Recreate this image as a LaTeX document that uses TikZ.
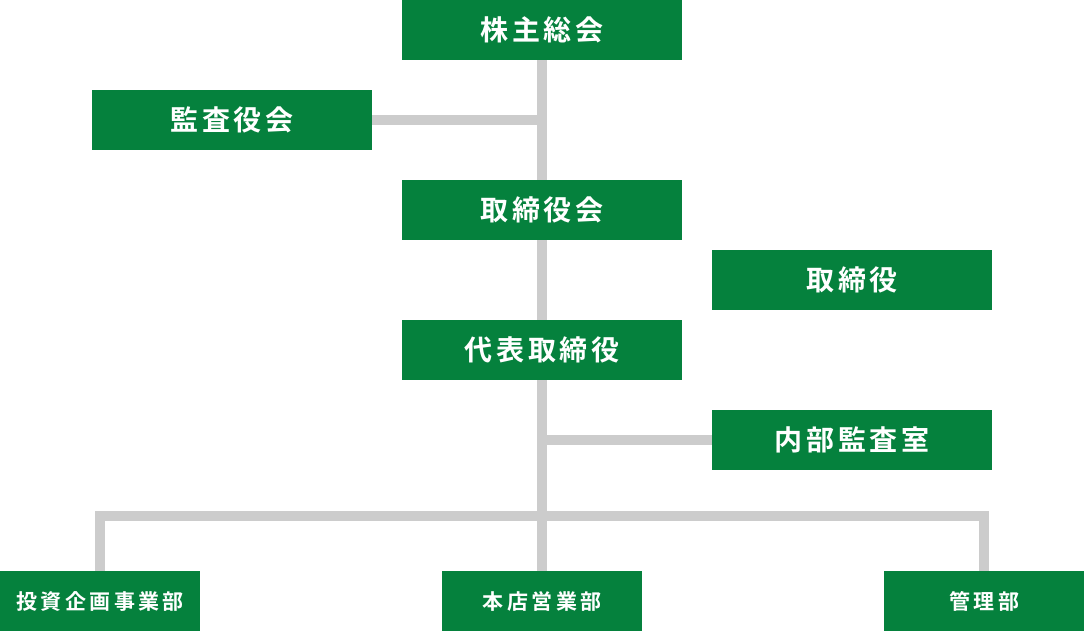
\documentclass[tikz,border=0pt]{standalone}
\usepackage{fontspec}
\usetikzlibrary{backgrounds}
\newfontfamily\jpbig{Noto Sans CJK JP}[UprightFont=* Bold, LetterSpace=13]
\newfontfamily\jpsmall{Noto Sans CJK JP}[UprightFont=* Bold, LetterSpace=16]
\definecolor{boxgreen}{HTML}{05813D}
\definecolor{linegray}{HTML}{CCCCCC}
\tikzset{
  bigbox/.style={rectangle, fill=boxgreen, text=white, inner sep=0pt, anchor=north west,
    minimum width=280pt, minimum height=60pt, font=\jpbig\fontsize{28}{28}\selectfont},
  smallbox/.style={rectangle, fill=boxgreen, text=white, inner sep=0pt, anchor=north west,
    minimum width=200pt, minimum height=60pt, font=\jpsmall\fontsize{21}{21}\selectfont},
  conn/.style={draw=linegray, line width=10pt, line join=miter}
}
\begin{document}
\begin{tikzpicture}[x=1pt,y=-1pt]
\useasboundingbox (0,0) rectangle (1084,631);
\node[bigbox] (soukai) at (402,0) {株主総会};
\node[bigbox] (kansa) at (92,90) {監査役会};
\node[bigbox] (torikai) at (402,180) {取締役会};
\node[bigbox] (torishimari) at (712,250) {取締役};
\node[bigbox] (daihyo) at (402,320) {代表取締役};
\node[bigbox] (naibu) at (712,410) {内部監査室};
\node[smallbox] (toushi) at (0,571) {投資企画事業部};
\node[smallbox] (honten) at (442,571) {本店営業部};
\node[smallbox] (kanri) at (884,571) {管理部};
\coordinate (bus) at (542,516);
\begin{scope}[on background layer]
\draw[conn] (soukai.south) -- (torikai.north);
\draw[conn] (torikai.south) -- (daihyo.north);
\draw[conn] (daihyo.south) -- (honten.north);
\draw[conn] (kansa.east) -- (kansa.east -| soukai.south);
\draw[conn] (naibu.west) -- (naibu.west -| daihyo.south);
\draw[conn] (toushi.north) |- (bus) -| (kanri.north);
\end{scope}
\end{tikzpicture}
\end{document}
